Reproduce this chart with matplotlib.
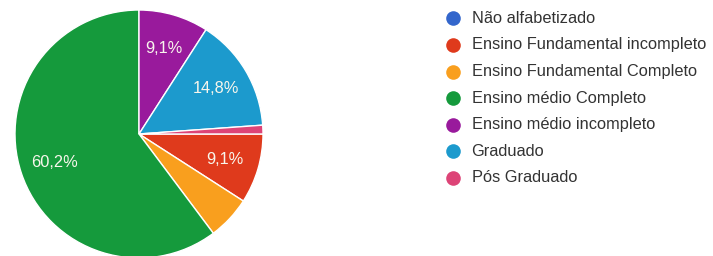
import matplotlib

matplotlib.use("Agg")
import matplotlib.pyplot as plt

# Escolaridade (n = 88)
categories = [
    "Não alfabetizado",
    "Ensino Fundamental incompleto",
    "Ensino Fundamental Completo",
    "Ensino médio Completo",
    "Ensino médio incompleto",
    "Graduado",
    "Pós Graduado",
]
counts = [0, 8, 5, 53, 8, 13, 1]
colors = ["#3366cc", "#df3a1c", "#f99f1e", "#159a3c", "#991a9c", "#1c9acd", "#dd4477"]

plt.rcParams["font.family"] = ["Liberation Sans", "DejaVu Sans"]

fig = plt.figure(figsize=(7.13, 2.56), dpi=100)
W, H = 713, 256

# pie: centre ~(139, 134) px, radius ~124 px
cx, cy, r = 139, 134, 124
ax = fig.add_axes([(cx - r) / W, (H - cy - r) / H, 2 * r / W, 2 * r / H])


def _fmt(pct):
    # small slices carry no label, like the original
    if pct < 7:
        return ""
    return f"{pct:.1f}%".replace(".", ",")


wedges, _, autotexts = ax.pie(
    counts,
    colors=colors,
    startangle=0,
    counterclock=False,
    radius=1.0,
    autopct=_fmt,
    pctdistance=0.72,
    wedgeprops=dict(edgecolor="white", linewidth=1.0),
    textprops=dict(color="#f8f6ec", fontsize=11.8),
)
ax.set_xlim(-1, 1)
ax.set_ylim(-1, 1)
ax.set_aspect("equal")
ax.axis("off")

# legend, drawn by hand so rows line up with the reference
lax = fig.add_axes([0, 0, 1, 1])
lax.set_xlim(0, W)
lax.set_ylim(H, 0)
lax.axis("off")
row0, step = 18.3, 26.6
for i, (label, color) in enumerate(zip(categories, colors)):
    y = row0 + i * step
    lax.plot([453], [y], marker="o", markersize=10.5, color=color, markeredgewidth=0)
    lax.text(471.5, y, label, fontsize=11.8, color="#333333", va="center", ha="left")

fig.savefig("out.png", dpi=100)
plt.close(fig)
